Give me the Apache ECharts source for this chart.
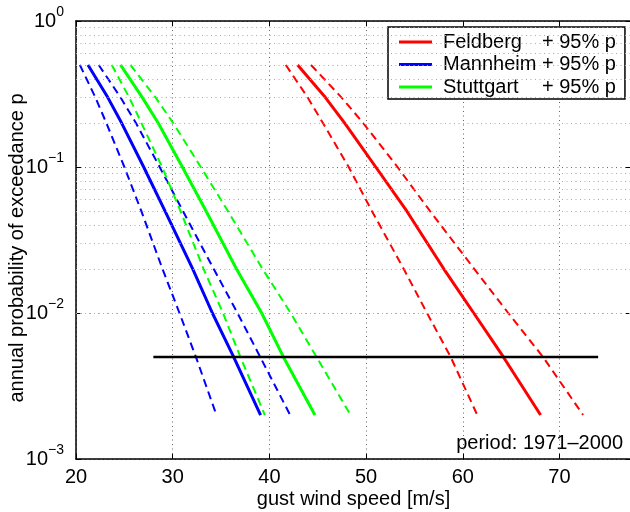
<!doctype html>
<html>
<head>
<meta charset="utf-8">
<title>gust wind speed - annual probability of exceedance</title>
<script src="https://cdn.jsdelivr.net/npm/echarts@6.0.0/dist/echarts.min.js"></script>
<style>
  body { margin: 0; background: #fff; }
  #main { width: 630px; height: 512px; }
</style>
</head>
<body>
<div id="main"></div>
<script>
var pLevels = [0.5, 0.3, 0.2, 0.1, 0.05, 0.02, 0.01, 0.005, 0.002];

// gust wind speed [m/s] per level: estimate and the 95% band
var feldberg    = [42.92, 45.78, 47.79, 51.0, 54.2, 58.05, 61.13, 64.2, 68.05];
var feldbergLo  = [41.7, 43.95, 45.54, 48.2, 50.6, 53.9, 56.3, 58.75, 61.5];
var feldbergHi  = [44.3, 47.45, 49.7, 53.25, 56.6, 61.2, 64.7, 68.3, 72.45];
var mannheim    = [21.24, 23.28, 24.72, 27.0, 29.2, 32.08, 34.1, 36.3, 39.09];
var mannheimLo  = [20.4, 22.0, 23.14, 25.0, 26.75, 28.95, 30.7, 32.4, 34.53];
var mannheimHi  = [22.35, 24.6, 26.2, 28.65, 31.05, 34.25, 36.7, 39.05, 42.15];
var stuttgart   = [24.6, 26.85, 28.5, 31.0, 33.45, 36.6, 39.2, 41.45, 44.71];
var stuttgartLo = [23.7, 25.5, 26.77, 28.9, 30.8, 33.2, 35.2, 37.0, 39.53];
var stuttgartHi = [25.63, 28.22, 30.05, 32.9, 35.7, 39.3, 42.2, 44.87, 48.4];

// black reference line at p = 0.005
var refLineX = [28, 74];
var refLineP = 0.005;

var xTicks = [20, 30, 40, 50, 60, 70];

var font = "'Liberation Sans', Arial, Helvetica, sans-serif";

function pts(xs) {
  return xs.map(function (v, i) { return [v, pLevels[i]]; });
}

// dotted minor grid 2..9 x 10^k
var minorLevels = [];
for (var k = -3; k < 0; k++) {
  for (var m = 2; m <= 9; m++) minorLevels.push(+(m * Math.pow(10, k)).toPrecision(3));
}

function curve(name, data, color, dashed) {
  return {
    name: name, type: 'line', data: pts(data), symbol: 'none', silent: true, z: 3,
    lineStyle: { color: color, width: dashed ? 2 : 3, type: dashed ? [8, 5] : 'solid' },
    itemStyle: { color: color }
  };
}

var RED = '#ff0000', BLUE = '#0000ff', GREEN = '#00ff00';

var chart = echarts.init(document.getElementById('main'));
chart.setOption({
  animation: false,
  textStyle: { fontFamily: font },
  grid: { left: 76, top: 21, width: 555, height: 438, outerBoundsMode: 'none', containLabel: false },
  xAxis: [{
    type: 'value', min: 20, max: 77.4, interval: 10,
    name: 'gust wind speed [m/s]', nameLocation: 'middle', nameGap: 30, nameMoveOverlap: false,
    nameTextStyle: { fontSize: 20, color: '#000', fontFamily: font },
    axisLine: { lineStyle: { color: '#000', width: 1.5 } },
    axisTick: { inside: true, length: 5, lineStyle: { color: '#000' } },
    axisLabel: {
      margin: 8, fontSize: 20, color: '#000', fontFamily: font,
      formatter: function (v) { return xTicks.indexOf(v) >= 0 ? String(v) : ''; }
    },
    splitLine: { show: true, lineStyle: { color: '#666', type: [1, 3.5], width: 1 } }
  }, {
    type: 'value', min: 20, max: 77.4, interval: 10, position: 'top',
    axisLine: { lineStyle: { color: '#000', width: 1.5 } },
    axisTick: { inside: true, length: 5, lineStyle: { color: '#000' } },
    axisLabel: { show: false }, splitLine: { show: false }
  }],
  yAxis: [{
    type: 'log', logBase: 10, min: 0.001, max: 1,
    name: 'annual probability of exceedance p', nameLocation: 'middle', nameGap: 49, nameMoveOverlap: false,
    nameTextStyle: { fontSize: 20, color: '#000', fontFamily: font, padding: [0, 16, 0, 0] },
    axisLine: { lineStyle: { color: '#000', width: 1.5 } },
    axisTick: { inside: true, length: 5, lineStyle: { color: '#000' } },
    axisLabel: {
      margin: 12, fontSize: 20, color: '#000', fontFamily: font,
      formatter: function (v) {
        var e = Math.round(Math.log10(v));
        return '10{s|' + (e < 0 ? '\u2212' + (-e) : e) + '}';
      },
      rich: { s: { fontSize: 14, fontFamily: font, color: '#000', padding: [0, 0, 18, 0] } }
    },
    splitLine: { show: true, lineStyle: { color: '#666', type: [1, 3.5], width: 1 } }
  }, {
    type: 'log', logBase: 10, min: 0.001, max: 1, position: 'right',
    axisLine: { lineStyle: { color: '#000', width: 1.5 } },
    axisTick: { inside: true, length: 5, lineStyle: { color: '#000' } },
    axisLabel: { show: false }, splitLine: { show: false }
  }],
  legend: {
    data: ['Feldberg', 'Mannheim', 'Stuttgart'],
    orient: 'vertical', left: 388, top: 27,
    icon: 'rect', itemWidth: 33, itemHeight: 3, itemGap: 0.5,
    padding: [4, 9, 1, 11],
    backgroundColor: '#fff', borderColor: '#000', borderWidth: 1.5,
    selectedMode: false,
    formatter: function (n) { return '{n|' + n + '}{r|+ 95% p}'; },
    textStyle: {
      fontFamily: font, fontSize: 20, color: '#000', lineHeight: 22, padding: [0, 0, 0, 6],
      rich: {
        n: { width: 99, fontSize: 20, fontFamily: font, color: '#000' },
        r: { fontSize: 20, fontFamily: font, color: '#000' }
      }
    }
  },
  graphic: [{
    type: 'text', x: 623, y: 443,
    style: { text: 'period: 1971\u20132000', fontSize: 20, fontFamily: font, fill: '#000', align: 'right', verticalAlign: 'middle' }
  }],
  series: [
    {
      // carries only the minor grid
      name: 'grid', type: 'line', data: [], silent: true, z: 1,
      markLine: {
        silent: true, symbol: 'none', label: { show: false },
        lineStyle: { color: '#aaa', type: [1, 3.5], width: 1 },
        data: minorLevels.map(function (v) { return { yAxis: v }; })
      }
    },
    curve('Feldberg', feldberg, RED, false),
    curve('Feldberg lower', feldbergLo, RED, true),
    curve('Feldberg upper', feldbergHi, RED, true),
    curve('Mannheim', mannheim, BLUE, false),
    curve('Mannheim lower', mannheimLo, BLUE, true),
    curve('Mannheim upper', mannheimHi, BLUE, true),
    curve('Stuttgart', stuttgart, GREEN, false),
    curve('Stuttgart lower', stuttgartLo, GREEN, true),
    curve('Stuttgart upper', stuttgartHi, GREEN, true),
    {
      name: 'p = 0.005', type: 'line', symbol: 'none', silent: true, z: 4,
      data: refLineX.map(function (x) { return [x, refLineP]; }),
      lineStyle: { color: '#000', width: 2.5 }
    }
  ]
});
</script>
</body>
</html>
